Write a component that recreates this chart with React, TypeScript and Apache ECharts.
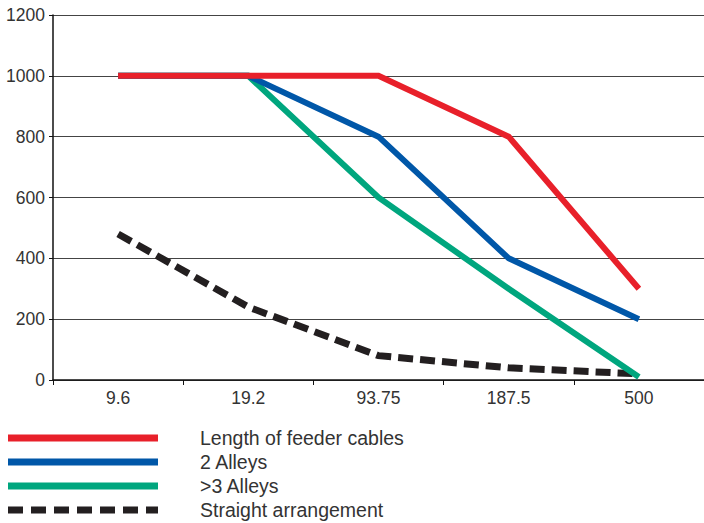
import React, { useEffect, useRef } from "react";
import * as echarts from "echarts";

const categories = ["9.6", "19.2", "93.75", "187.5", "500"];
const feederCables = [1000, 1000, 1000, 800, 300];
const twoAlleys = [1000, 1000, 800, 400, 200];
const threeAlleys = [1000, 1000, 600, 300, 10];
const straight = [480, 240, 80, 40, 20];
const seriesNames = ["Length of feeder cables", "2 Alleys", ">3 Alleys", "Straight arrangement"];
const colors = ["#e8202a", "#0057a8", "#00a67e", "#231f20"];

export default function App() {
  const ref = useRef<HTMLDivElement>(null);
  useEffect(() => {
    if (!ref.current) return;
    const chart = echarts.init(ref.current, undefined, { renderer: "svg" });
    const font = "Liberation Sans, Arial, sans-serif";
    const legendY = [438, 462, 486, 510];
    const graphic: any[] = [];
    seriesNames.forEach((name, i) => {
      graphic.push({
        type: "line",
        shape: { x1: 8, y1: legendY[i], x2: 158, y2: legendY[i] },
        style: {
          stroke: colors[i],
          lineWidth: 7,
          lineDash: i === 3 ? [15, 8] : null,
        },
      });
      graphic.push({
        type: "text",
        x: 200,
        y: legendY[i],
        style: {
          text: name,
          fill: "#333",
          font: `19.5px ${font}`,
          verticalAlign: "middle",
        },
      });
    });
    const mk = (i: number, data: number[]) => ({
      name: seriesNames[i],
      type: "line",
      data,
      symbol: "none",
      z: 10 - i,
      lineStyle: {
        color: colors[i],
        width: i === 3 ? 7 : 6,
        type: i === 3 ? [15, 7] : "solid",
        cap: "butt",
        join: "miter",
      },
    });
    chart.setOption({
      animation: false,
      grid: { left: 53, top: 15, right: -5, bottom: 143, containLabel: false },
      xAxis: {
        type: "category",
        data: categories,
        boundaryGap: true,
        axisLine: { lineStyle: { color: "#111", width: 1.5 } },
        axisTick: { show: true, length: 5, lineStyle: { color: "#111" } },
        axisLabel: { color: "#333", fontSize: 17.5, fontFamily: font, margin: 9 },
        splitLine: { show: false },
      },
      yAxis: {
        type: "value",
        min: 0,
        max: 1200,
        interval: 200,
        axisLine: { show: true, lineStyle: { color: "#111", width: 1.5 } },
        axisTick: { show: true, length: 4, lineStyle: { color: "#111" } },
        axisLabel: {
          color: "#333",
          fontSize: 17.5,
          fontFamily: font,
          margin: 8,
          formatter: (v: number) => String(v),
        },
        splitLine: { show: true, lineStyle: { color: "#444", width: 1 } },
      },
      graphic,
      series: [
        mk(0, feederCables),
        mk(1, twoAlleys),
        mk(2, threeAlleys),
        mk(3, straight),
      ],
    });
    return () => chart.dispose();
  }, []);
  return (
    <div
      ref={ref}
      style={{ position: "fixed", left: 0, top: 0, width: 704, height: 523, background: "#fff" }}
    />
  );
}
